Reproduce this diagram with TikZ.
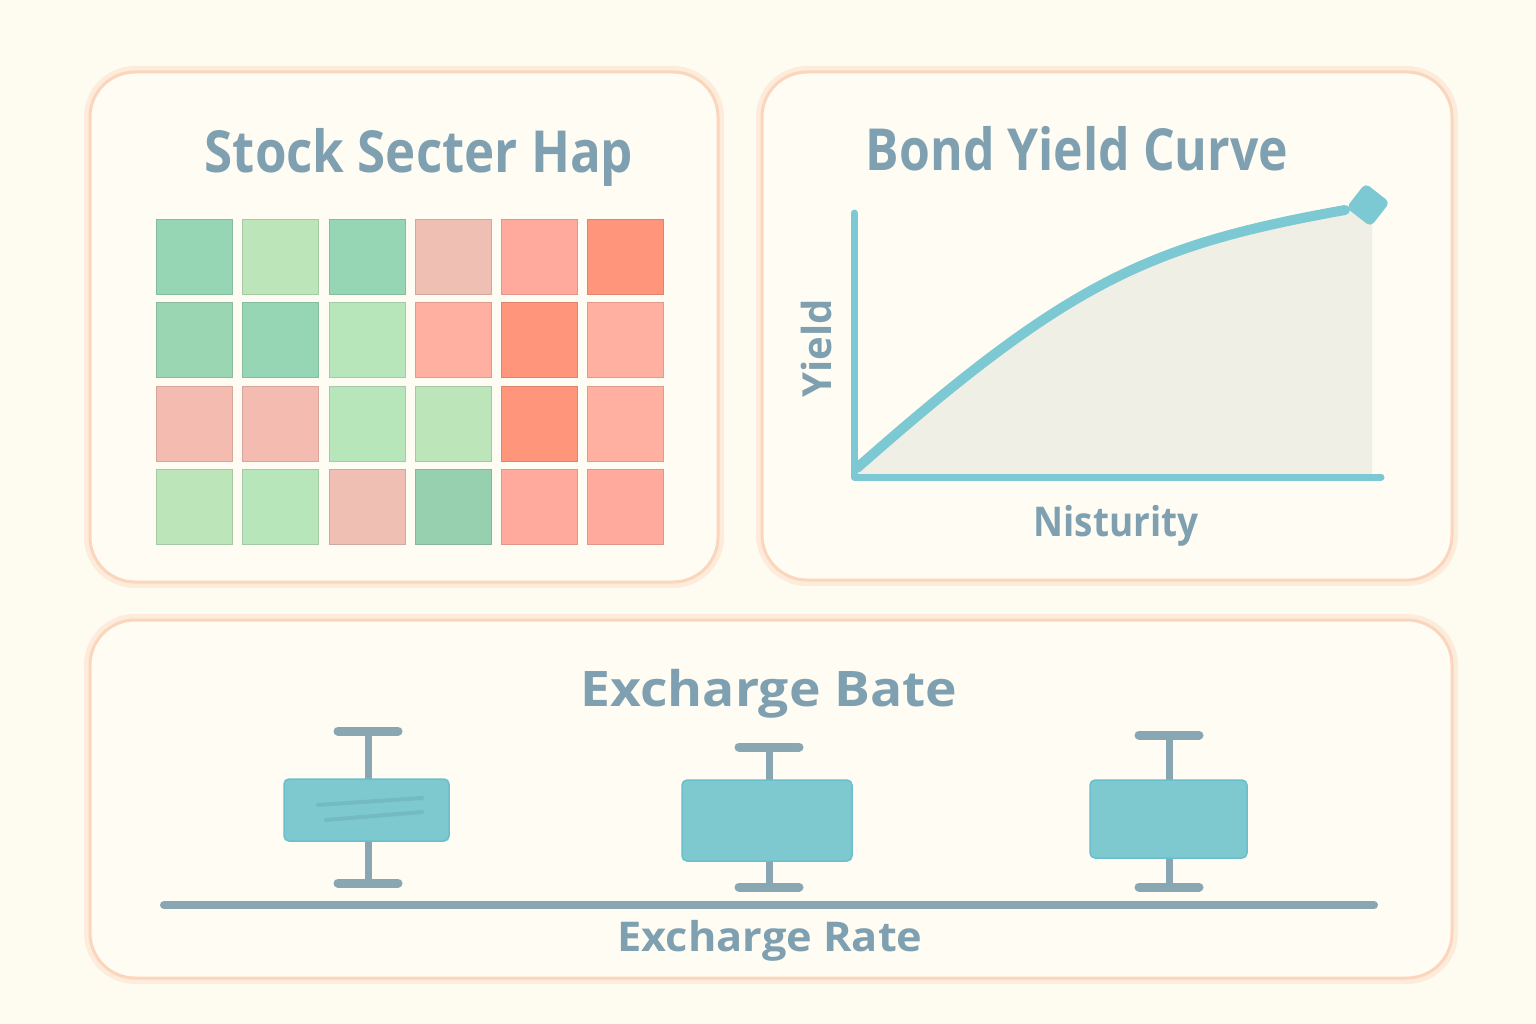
\documentclass[tikz,border=0pt]{standalone}
\usepackage{fontspec}
\setmainfont{Open Sans}
\usetikzlibrary{shapes.geometric}
\definecolor{bg}{HTML}{FEFCF1}
\definecolor{panelfill}{HTML}{FFFCF3}
\definecolor{panelline}{HTML}{FBD6BC}
\definecolor{glow}{HTML}{FDE6D4}
\definecolor{txt}{HTML}{7FA0B0}
\definecolor{teal}{HTML}{7CC9D3}
\definecolor{tealbox}{HTML}{7EC8D0}
\definecolor{tealedge}{HTML}{6BBFCC}
\definecolor{whisk}{HTML}{88A7B3}
\definecolor{chartfill}{HTML}{F0EFE6}
\definecolor{dg}{HTML}{97D6B4}
\definecolor{dgb}{HTML}{9BD6B2}
\definecolor{dgc}{HTML}{97D0AE}
\definecolor{lg}{HTML}{BCE6B9}
\definecolor{lgb}{HTML}{B8E6BB}
\definecolor{pk}{HTML}{EFBFB4}
\definecolor{pkb}{HTML}{F4BCB0}
\definecolor{sa}{HTML}{FFAA9C}
\definecolor{sab}{HTML}{FFB0A0}
\definecolor{orr}{HTML}{FF967C}
\tikzset{
  panel/.style={draw=panelline, line width=3pt, fill=panelfill, rounded corners=45pt},
  panelglow/.style={draw=glow, line width=12pt, rounded corners=45pt, opacity=0.7},
  cell/.style={minimum width=76pt, minimum height=75pt, inner sep=0pt, draw=#1!88!black, line width=0.8pt, fill=#1},
  title/.style={font=\fontsize{58}{62}\selectfont\bfseries, text=txt, anchor=base, inner sep=0pt},
  label/.style={font=\fontsize{41}{44}\selectfont\bfseries, text=txt, anchor=base, inner sep=0pt},
  chartaxis/.style={draw=teal, line width=7pt, line cap=round, line join=round},
  chartcurve/.style={draw=teal, line width=10pt, line cap=round},
  whisker/.style={draw=whisk, line width=7pt},
  whiskcap/.style={draw=whisk, line width=9pt, line cap=round},
  iqr/.style={fill=tealbox, draw=tealedge, line width=1.5pt, rounded corners=5pt},
}
\begin{document}
\begin{tikzpicture}[x=1pt,y=-1pt]
\useasboundingbox (0,0) rectangle (1536,1024);
\fill[bg] (0,0) rectangle (1536,1024);

% panels
\draw[panelglow] (90,72) rectangle (718,582);
\draw[panel] (90,72) rectangle (718,582);
\draw[panelglow] (762,72) rectangle (1452,580);
\draw[panel] (762,72) rectangle (1452,580);
\draw[panelglow] (90,620) rectangle (1452,978);
\draw[panel] (90,620) rectangle (1452,978);

% titles
\node[title] (t1) at (419,173) {\scalebox{0.88}[1]{Stock Secter Hap}};
\node[title] (t2) at (1077,171) {\scalebox{0.86}[1]{Bond Yield Curve}};
\node[title, font=\fontsize{49}{52}\selectfont\bfseries] (t3) at (769,706) {\scalebox{1.09}[1]{Excharge Bate}};

% heatmap
\foreach \c [count=\i] in {dg,lg,dg,pk,sa,orr}
  \node[cell=\c] (r1c\i) at ({194.5+86.2*(\i-1)},256.5) {};
\foreach \c [count=\i] in {dgb,dg,lgb,sab,orr,sab}
  \node[cell=\c] (r2c\i) at ({194.5+86.2*(\i-1)},340) {};
\foreach \c [count=\i] in {pkb,pkb,lgb,lg,orr,sab}
  \node[cell=\c] (r3c\i) at ({194.5+86.2*(\i-1)},423.5) {};
\foreach \c [count=\i] in {lg,lgb,pk,dgc,sa,sa}
  \node[cell=\c] (r4c\i) at ({194.5+86.2*(\i-1)},507) {};

% bond chart
\fill[chartfill] (856,472) .. controls (1070,280) and (1150,245) .. (1345,210) -- (1372,206) -- (1372,477) -- (856,477) -- cycle;
\draw[chartaxis] (854,213) -- (854,477) -- (1381,477);
\draw[chartcurve] (857,468) .. controls (1070,280) and (1150,245) .. (1345,210);
\node[fill=teal, minimum size=31pt, inner sep=0pt, rounded corners=5pt, rotate=-38] (tip) at (1368,205) {};
\node[label, font=\fontsize{40}{44}\selectfont\bfseries, rotate=90, anchor=center] (ylab) at (816,348) {Yield};
\node[label] (xlab) at (1116,536) {\scalebox{0.9}[1]{Nisturity}};

% box plots
\draw[whisker] (368,731) -- (368,883);
\draw[whiskcap] (338,731) -- (398,731);
\draw[whiskcap] (338,883) -- (398,883);
\draw[iqr] (284,779) rectangle (449,841);
\draw[line width=4pt, draw=tealedge!70!black, opacity=0.2, line cap=round] (318,805) -- (422,798);
\draw[line width=4pt, draw=tealedge!70!black, opacity=0.2, line cap=round] (326,820) -- (422,812);

\draw[whisker] (769,747) -- (769,887);
\draw[whiskcap] (739,747) -- (799,747);
\draw[whiskcap] (739,887) -- (799,887);
\draw[iqr] (682,780) rectangle (852,861);

\draw[whisker] (1169,735) -- (1169,887);
\draw[whiskcap] (1139,735) -- (1199,735);
\draw[whiskcap] (1139,887) -- (1199,887);
\draw[iqr] (1090,780) rectangle (1247,858);

\draw[draw=whisk, line width=8pt, line cap=round] (164,905) -- (1374,905);
\node[label] (xlab2) at (770,951) {\scalebox{1.056}[1]{Excharge Rate}};
\end{tikzpicture}
\end{document}
